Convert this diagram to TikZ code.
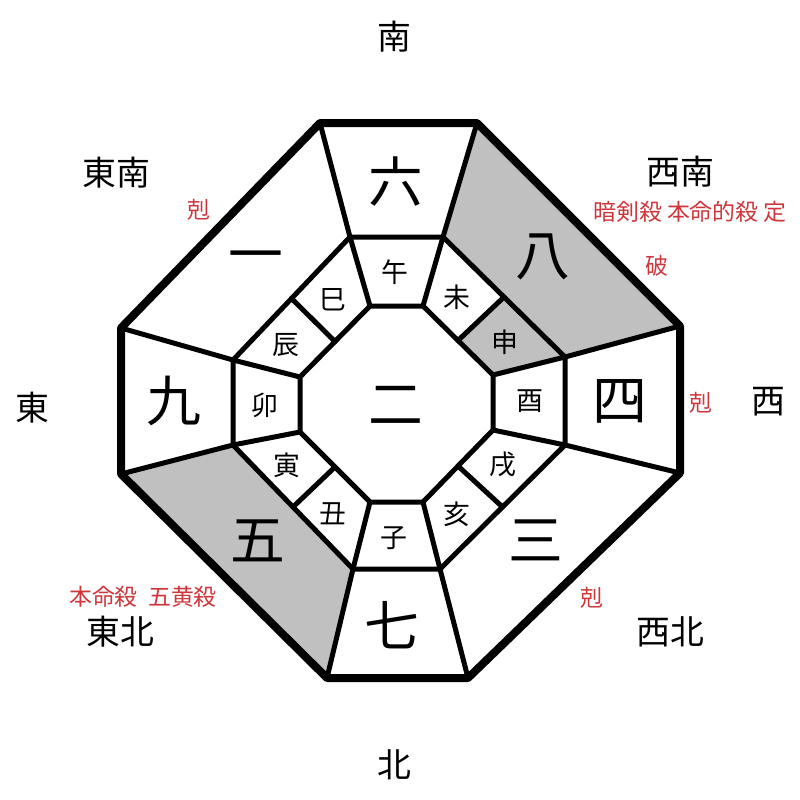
\documentclass[tikz,border=0pt]{standalone}
\usepackage{fontspec}
\setmainfont{Noto Sans CJK JP}
\usetikzlibrary{calc}
\definecolor{greyfill}{RGB}{192,192,192}
\definecolor{redtxt}{RGB}{205,55,60}
\begin{document}
\begin{tikzpicture}[x=1bp,y=-1bp,
  thickline/.style={line width=8bp,line join=round},
  thinline/.style={line width=5bp,line join=round,line cap=round},
  dirlabel/.style={font=\fontsize{34}{34}\selectfont},
  bignum/.style={font=\fontsize{55}{55}\selectfont},
  branch/.style={font=\fontsize{27}{27}\selectfont},
  note/.style={font=\fontsize{23}{23}\selectfont,text=redtxt},
  every node/.style={inner sep=0pt}]
\useasboundingbox (0,0) rectangle (800,800);
% outer octagon
\coordinate (O1) at (320,123);
\coordinate (O2) at (477,123);
\coordinate (O3) at (680,326);
\coordinate (O4) at (680,473);
\coordinate (O5) at (468,678);
\coordinate (O6) at (327,678);
\coordinate (O7) at (121,474);
\coordinate (O8) at (121,328);
% middle octagon
\coordinate (M1) at (350,237);
\coordinate (M2) at (443,237);
\coordinate (M3) at (565,357);
\coordinate (M4) at (565,445);
\coordinate (M5) at (440,569);
\coordinate (M6) at (353,569);
\coordinate (M7) at (233,445);
\coordinate (M8) at (233,360);
% inner octagon
\coordinate (I1) at (370,306);
\coordinate (I2) at (423,306);
\coordinate (I3) at (493,375);
\coordinate (I4) at (493,430);
\coordinate (I5) at (423,502);
\coordinate (I6) at (370,502);
\coordinate (I7) at (300,432);
\coordinate (I8) at (300,377);
% dividers in diagonal middle sectors
\coordinate (dNWi) at ($(I8)!0.5!(I1)$);
\coordinate (dNWm) at ($(M8)!0.5!(M1)$);
\coordinate (dNEi) at ($(I2)!0.5!(I3)$);
\coordinate (dNEm) at ($(M2)!0.5!(M3)$);
\coordinate (dSEi) at ($(I4)!0.5!(I5)$);
\coordinate (dSEm) at ($(M4)!0.5!(M5)$);
\coordinate (dSWi) at ($(I6)!0.5!(I7)$);
\coordinate (dSWm) at ($(M6)!0.5!(M7)$);
% grey fills
\fill[greyfill] (O2)--(O3)--(M3)--(M2)--cycle;
\fill[greyfill] (dNEi)--(dNEm)--(M3)--(I3)--cycle;
\fill[greyfill] (O6)--(O7)--(M7)--(M6)--cycle;
% lines
\draw[thinline] (M1)--(M2)--(M3)--(M4)--(M5)--(M6)--(M7)--(M8)--cycle;
\draw[thinline] (I1)--(I2)--(I3)--(I4)--(I5)--(I6)--(I7)--(I8)--cycle;
\foreach \k in {1,...,8}{
  \draw[thinline] (O\k)--(M\k);
  \draw[thinline] (M\k)--(I\k);
}
\draw[thinline] (dNWi)--(dNWm);
\draw[thinline] (dNEi)--(dNEm);
\draw[thinline] (dSEi)--(dSEm);
\draw[thinline] (dSWi)--(dSWm);
\draw[thickline] (O1)--(O2)--(O3)--(O4)--(O5)--(O6)--(O7)--(O8)--cycle;
% direction labels
\node[dirlabel] (dS) at (394,37) {南};
\node[dirlabel] (dSE) at (116,173) {東南};
\node[dirlabel] (dSW) at (680,172) {西南};
\node[dirlabel] (dE) at (32,408) {東};
\node[dirlabel] (dW) at (768,402) {西};
\node[dirlabel] (dNE) at (120,632) {東北};
\node[dirlabel] (dNW) at (670,632) {西北};
\node[dirlabel] (dN) at (394,765) {北};
% red notes
\node[note] (n1) at (199,210) {剋};
\node[note] (n2) at (690,212) {暗剣殺 本命的殺 定};
\node[note] (n3) at (657,266) {破};
\node[note] (n4) at (701,403) {剋};
\node[note] (n5) at (143,597) {本命殺\hspace{0.45em}五黄殺};
\node[note] (n6) at (592,598) {剋};
% big numbers
\node[bignum] (b6) at (396,182) {六};
\node[bignum] (b8) at (543,257) {八};
\node[bignum] (b1) at (256,263) {一};
\node[bignum] (b9) at (174,401) {九};
\node[bignum] (b4) at (620,401) {四};
\node[bignum] (b5) at (258,541) {五};
\node[bignum] (b3) at (536,540) {三};
\node[bignum] (b7) at (392,625) {七};
\node[bignum] (b2) at (396,405) {二};
% branches
\node[branch] (z1) at (395,272) {午};
\node[branch] (z2) at (457,297) {未};
\node[branch] (z3) at (505,342) {申};
\node[branch] (z4) at (530,401) {酉};
\node[branch] (z5) at (503,465) {戌};
\node[branch] (z6) at (457,514) {亥};
\node[branch] (z7) at (394,538) {子};
\node[branch] (z8) at (333,514) {丑};
\node[branch] (z9) at (287,465) {寅};
\node[branch] (z10) at (265,405) {卯};
\node[branch] (z11) at (286,345) {辰};
\node[branch] (z12) at (333,300) {巳};
\end{tikzpicture}
\end{document}
